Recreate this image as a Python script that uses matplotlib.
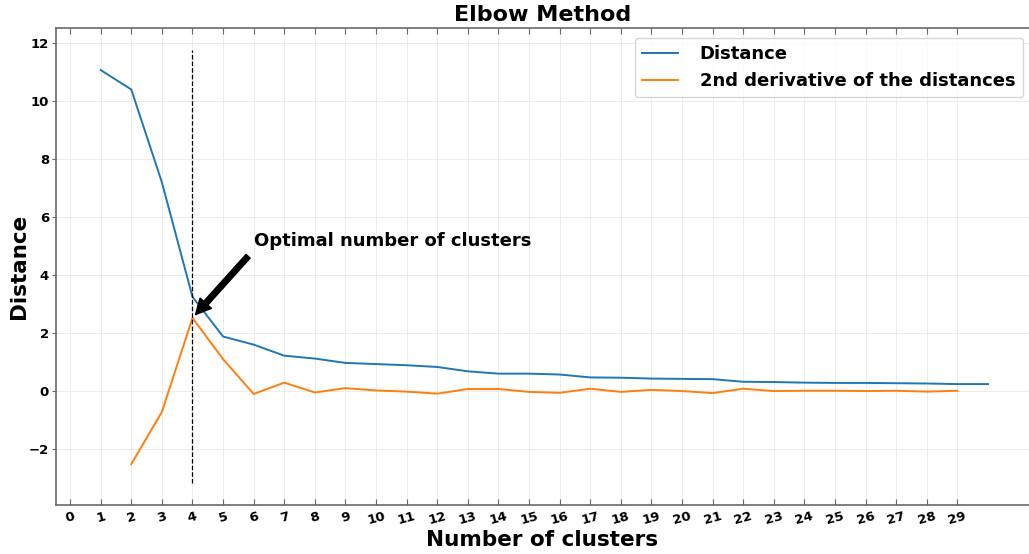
import matplotlib
matplotlib.use("Agg")
import matplotlib.pyplot as plt

# values
clusters = list(range(1, 31))
distance = [11.07, 10.40, 7.20, 3.25, 1.88, 1.60, 1.22, 1.12, 0.97, 0.93,
            0.89, 0.83, 0.68, 0.60, 0.60, 0.57, 0.47, 0.46, 0.43, 0.42,
            0.41, 0.32, 0.31, 0.29, 0.28, 0.28, 0.27, 0.26, 0.24, 0.24]
deriv_clusters = list(range(2, 30))
second_deriv = [-2.52, -0.72, 2.52, 1.10, -0.10, 0.29, -0.05, 0.10, 0.02, -0.02,
                -0.09, 0.07, 0.07, -0.03, -0.06, 0.08, -0.03, 0.04, 0.00, -0.07,
                0.08, 0.00, 0.01, 0.01, 0.00, 0.01, -0.02, 0.01]
x_ticks = list(range(0, 30))
optimal_k = 4
vline_range = (-3.17, 11.76)

fig = plt.figure(figsize=(10.29, 5.54), dpi=100)
ax = fig.add_axes([56 / 1029, 49 / 554, 1 - 56 / 1029, 477 / 554])

ax.plot(clusters, distance, color="#1f77b4", lw=1.4, label="Distance")
ax.plot(deriv_clusters, second_deriv, color="#ff7f0e", lw=1.4,
        label="2nd derivative of the distances")
ax.vlines(optimal_k, vline_range[0], vline_range[1], colors="black",
          linestyles="--", lw=0.9)
ax.annotate("Optimal number of clusters",
            xy=(optimal_k, second_deriv[deriv_clusters.index(optimal_k)]),
            xytext=(6, 5.0), fontsize=13, fontweight="bold",
            arrowprops=dict(facecolor="black", shrink=0.05, width=4,
                            headwidth=11, headlength=11))

ax.set_xlim(-0.46, 31.34)
ax.set_ylim(-3.93, 12.52)
ax.set_xticks(x_ticks)
ax.set_xticklabels([str(t) for t in x_ticks], rotation=15, fontweight="bold",
                   fontsize=9.5)
ax.set_yticks(range(-2, 13, 2))
for lbl in ax.get_yticklabels():
    lbl.set_fontweight("bold")
    lbl.set_fontsize(9.5)
ax.tick_params(axis="x", direction="in", top=True, length=4, color="dimgray")
ax.tick_params(axis="y", direction="out", length=3, pad=2, color="dimgray")

ax.grid(True, color="#ececec", lw=0.7)
for side in ("left", "bottom", "top"):
    ax.spines[side].set_color("dimgray")
    ax.spines[side].set_linewidth(1.2)
ax.spines["right"].set_visible(False)

ax.set_title("Elbow Method", fontsize=16, fontweight="bold", pad=5)
ax.set_xlabel("Number of clusters", fontsize=15.5, fontweight="bold", labelpad=2)
ax.set_ylabel("Distance", fontsize=15.5, fontweight="bold", labelpad=0)
ax.legend(loc="upper right", prop={"weight": "bold", "size": 13},
          bbox_to_anchor=(1.0, 0.993), borderaxespad=0.35,
          handletextpad=1.2)

fig.savefig("out.png", dpi=100)
